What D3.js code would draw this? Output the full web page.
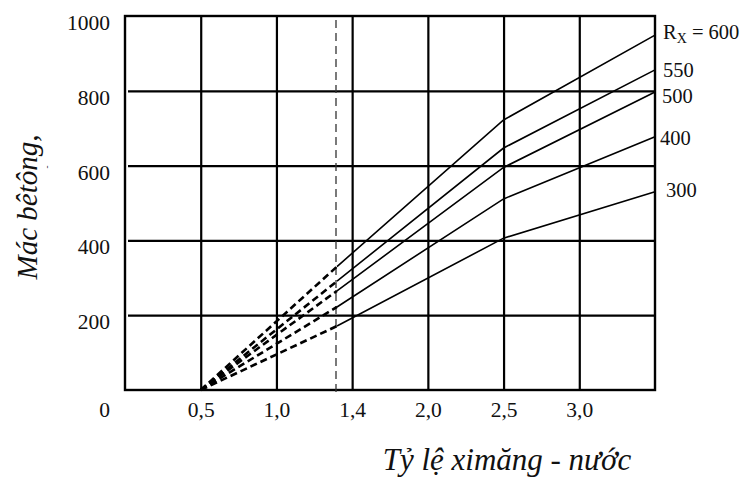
<!DOCTYPE html>
<html>
<head>
<meta charset="utf-8">
<script src="https://cdn.jsdelivr.net/npm/d3@7"></script>
<style>
  html, body { margin: 0; padding: 0; background: #fff; }
  svg { display: block; }
</style>
</head>
<body>
<svg id="chart" width="750" height="480"></svg>
<script>
// ---- data ----
const ratios = [0.5, 1.4, 2.5, 3.5];          // x positions of line vertices
const seriesNames = ["600", "550", "500", "400", "300"];
const values600 = [0, 330, 722, 949];
const values550 = [0, 291, 647, 856];
const values500 = [0, 265, 595, 797];
const values400 = [0, 222, 511, 677];
const values300 = [0, 171, 406, 530];
const xTickValues = [0.5, 1.0, 1.5, 2.0, 2.5, 3.0];
const xTickLabels = ["0,5", "1,0", "1,4", "2,0", "2,5", "3,0"];
const yTickValues = [0, 200, 400, 600, 800, 1000];
const limitRatio = 1.4;                         // dashed vertical line
const xTitle = "Tỷ lệ ximăng - nước";
const yTitle = "Mác bêtông,";

// layout-only offsets for series labels (baseline shift from line end)
const labelDy = [4, 7, 11, 8, 5];
const labelDx = [8, 8, 7, 5, 11];

const allSeries = [values600, values550, values500, values400, values300];
const FONT = "'Liberation Serif', 'Times New Roman', serif";

const svg = d3.select("#chart");
const mLeft = 125, mRight = 655, mTop = 16, mBottom = 390;
const x = d3.scaleLinear().domain([0, 3.5]).range([mLeft, mRight]);
const y = d3.scaleLinear().domain([0, 1000]).range([mBottom, mTop]);

// grid via axes
const gx = svg.append("g").attr("transform", `translate(0,${mBottom})`)
  .call(d3.axisBottom(x).tickValues(xTickValues).tickSize(-(mBottom - mTop))
        .tickPadding(12).tickFormat((d, i) => xTickLabels[i]));
gx.attr("font-family", null);
gx.select(".domain").remove();
gx.selectAll("line").attr("stroke", "#000").attr("stroke-width", 2.2);
gx.selectAll("text").attr("font-size", 21.5).attr("fill", "#111")
  .style("font-family", FONT);

const gy = svg.append("g").attr("transform", `translate(${mLeft},0)`)
  .call(d3.axisLeft(y).tickValues(yTickValues.filter(v => v > 0 && v < 1000))
        .tickSize(-(mRight - mLeft)).tickFormat(""));
gy.select(".domain").remove();
gy.selectAll("line").attr("stroke", "#000").attr("stroke-width", 2.2)
  .attr("x1", 3);

// y labels
svg.append("g").selectAll("text").data(yTickValues).join("text")
  .attr("x", 110)
  .attr("y", d => d === 0 ? y(d) + 27 : y(d) + 14)
  .attr("text-anchor", "end")
  .attr("font-size", 21.5).attr("fill", "#111")
  .style("font-family", FONT)
  .text(d => d);

// frame
svg.append("rect").attr("x", mLeft).attr("y", mTop)
  .attr("width", mRight - mLeft).attr("height", mBottom - mTop)
  .attr("fill", "none").attr("stroke", "#000").attr("stroke-width", 2.4);

// dashed vertical limit line
svg.append("line")
  .attr("x1", x(limitRatio) - 1).attr("x2", x(limitRatio) - 1)
  .attr("y1", mTop + 4).attr("y2", mBottom + 4)
  .attr("stroke", "#333").attr("stroke-width", 1.3)
  .attr("stroke-dasharray", "8,5");

const line = d3.line().x(d => x(d[0])).y(d => y(d[1]));

allSeries.forEach((vals, i) => {
  const pts = ratios.map((r, k) => [r, vals[k]]);
  svg.append("path").attr("d", line(pts.slice(0, 2)))
    .attr("fill", "none").attr("stroke", "#000").attr("stroke-width", 2.6)
    .attr("stroke-dasharray", "7,4");
  svg.append("path").attr("d", line(pts.slice(1)))
    .attr("fill", "none").attr("stroke", "#000").attr("stroke-width", 1.6);
  const lx = x(ratios[ratios.length - 1]) + labelDx[i];
  const ly = y(vals[vals.length - 1]) + labelDy[i];
  const t = svg.append("text").attr("x", lx).attr("y", ly)
    .attr("font-size", 20.5).attr("fill", "#111").style("font-family", FONT);
  if (i === 0) {
    t.append("tspan").text("R");
    t.append("tspan").attr("font-size", 14).attr("dy", 4).text("X");
    t.append("tspan").attr("dy", -4).text(" = " + seriesNames[i]);
  } else {
    t.text(seriesNames[i]);
  }
});

// axis titles
svg.append("text").attr("x", 507).attr("y", 470)
  .attr("text-anchor", "middle").attr("font-size", 31).attr("fill", "#111")
  .style("font-family", FONT)
  .attr("font-style", "italic").text(xTitle);

svg.append("text").attr("transform", "translate(37,207) rotate(-90)")
  .attr("text-anchor", "middle").attr("font-size", 29).attr("fill", "#111")
  .style("font-family", FONT)
  .attr("font-style", "italic").text(yTitle);

// small stray mark next to the y title
svg.append("text").attr("transform", "translate(50,167) rotate(-90)")
  .attr("text-anchor", "middle").attr("font-size", 9).attr("fill", "#111")
  .style("font-family", FONT).text("-");
</script>
</body>
</html>
